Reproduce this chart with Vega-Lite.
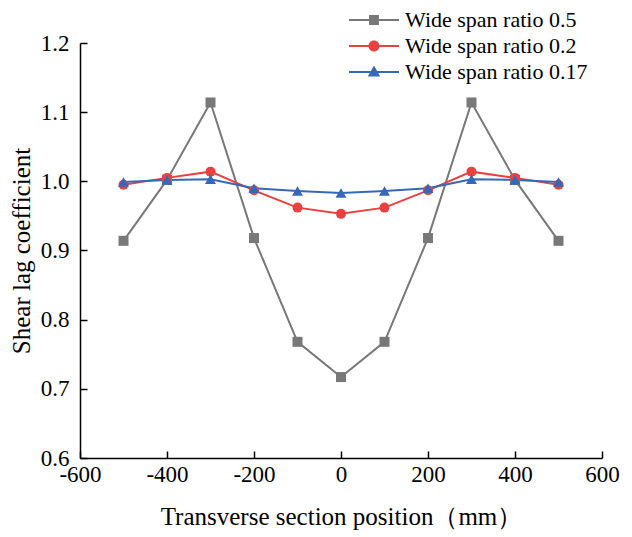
{
  "$schema": "https://vega.github.io/schema/vega-lite/v6.json",
  "width": 522,
  "height": 415,
  "autosize": {"type": "none"},
  "padding": {"left": 80, "top": 43, "right": 30, "bottom": 79},
  "background": "white",
  "config": {
    "view": {"stroke": null},
    "font": "Liberation Serif",
    "axis": {
      "grid": false,
      "domainColor": "#000000",
      "domainWidth": 1.5,
      "tickColor": "#000000",
      "tickWidth": 1.5,
      "tickSize": 7,
      "labelFlush": false,
      "labelColor": "#000000",
      "labelFontSize": 23,
      "labelFont": "Liberation Serif",
      "titleFont": "Liberation Serif",
      "titleFontSize": 25,
      "titleFontWeight": "normal",
      "titleColor": "#000000"
    }
  },
  "data": {
    "values": [
      {"pos": -500, "value": 0.914, "series": "Wide span ratio 0.5"},
      {"pos": -400, "value": 1.002, "series": "Wide span ratio 0.5"},
      {"pos": -300, "value": 1.114, "series": "Wide span ratio 0.5"},
      {"pos": -200, "value": 0.918, "series": "Wide span ratio 0.5"},
      {"pos": -100, "value": 0.768, "series": "Wide span ratio 0.5"},
      {"pos": 0, "value": 0.717, "series": "Wide span ratio 0.5"},
      {"pos": 100, "value": 0.768, "series": "Wide span ratio 0.5"},
      {"pos": 200, "value": 0.918, "series": "Wide span ratio 0.5"},
      {"pos": 300, "value": 1.114, "series": "Wide span ratio 0.5"},
      {"pos": 400, "value": 1.002, "series": "Wide span ratio 0.5"},
      {"pos": 500, "value": 0.914, "series": "Wide span ratio 0.5"},
      {"pos": -500, "value": 0.995, "series": "Wide span ratio 0.2"},
      {"pos": -400, "value": 1.005, "series": "Wide span ratio 0.2"},
      {"pos": -300, "value": 1.014, "series": "Wide span ratio 0.2"},
      {"pos": -200, "value": 0.987, "series": "Wide span ratio 0.2"},
      {"pos": -100, "value": 0.962, "series": "Wide span ratio 0.2"},
      {"pos": 0, "value": 0.953, "series": "Wide span ratio 0.2"},
      {"pos": 100, "value": 0.962, "series": "Wide span ratio 0.2"},
      {"pos": 200, "value": 0.987, "series": "Wide span ratio 0.2"},
      {"pos": 300, "value": 1.014, "series": "Wide span ratio 0.2"},
      {"pos": 400, "value": 1.005, "series": "Wide span ratio 0.2"},
      {"pos": 500, "value": 0.995, "series": "Wide span ratio 0.2"},
      {"pos": -500, "value": 0.999, "series": "Wide span ratio 0.17"},
      {"pos": -400, "value": 1.002, "series": "Wide span ratio 0.17"},
      {"pos": -300, "value": 1.003, "series": "Wide span ratio 0.17"},
      {"pos": -200, "value": 0.990, "series": "Wide span ratio 0.17"},
      {"pos": -100, "value": 0.986, "series": "Wide span ratio 0.17"},
      {"pos": 0, "value": 0.983, "series": "Wide span ratio 0.17"},
      {"pos": 100, "value": 0.986, "series": "Wide span ratio 0.17"},
      {"pos": 200, "value": 0.990, "series": "Wide span ratio 0.17"},
      {"pos": 300, "value": 1.003, "series": "Wide span ratio 0.17"},
      {"pos": 400, "value": 1.002, "series": "Wide span ratio 0.17"},
      {"pos": 500, "value": 0.999, "series": "Wide span ratio 0.17"}
    ]
  },
  "encoding": {
    "x": {
      "field": "pos",
      "type": "quantitative",
      "scale": {"domain": [-600, 600], "nice": false, "zero": false},
      "axis": null
    },
    "y": {
      "field": "value",
      "type": "quantitative",
      "scale": {"domain": [0.6, 1.2], "nice": false, "zero": false},
      "axis": null
    }
  },
  "layer": [
    {
      "transform": [{"filter": "datum.series === 'Wide span ratio 0.5'"}],
      "mark": {"type": "line", "strokeWidth": 2, "color": "#787878"},
      "encoding": {
        "x": {
          "field": "pos",
          "type": "quantitative",
          "scale": {"domain": [-600, 600], "nice": false, "zero": false},
          "axis": {
            "orient": "bottom",
            "values": [-600, -400, -200, 0, 200, 400, 600],
            "labelExpr": "datum.value + ''",
            "ticks": false,
            "title": "Transverse section position（mm）",
            "labelPadding": 5,
            "titlePadding": 18
          }
        },
        "y": {
          "field": "value",
          "type": "quantitative",
          "scale": {"domain": [0.6, 1.2], "nice": false, "zero": false},
          "axis": {
            "orient": "left",
            "values": [0.6, 0.7, 0.8, 0.9, 1.0, 1.1, 1.2],
            "format": ".1f",
            "ticks": false,
            "title": "Shear lag coefficient",
            "labelPadding": 11,
            "titlePadding": 6
          }
        }
      }
    },
    {
      "transform": [{"filter": "datum.series === 'Wide span ratio 0.2'"}],
      "mark": {"type": "line", "strokeWidth": 2, "color": "#e8413f"}
    },
    {
      "transform": [{"filter": "datum.series === 'Wide span ratio 0.17'"}],
      "mark": {"type": "line", "strokeWidth": 2, "color": "#3568b8"}
    },
    {
      "transform": [{"filter": "datum.series === 'Wide span ratio 0.5'"}],
      "mark": {"type": "point", "filled": true, "opacity": 1, "shape": "square", "size": 100, "color": "#787878"}
    },
    {
      "transform": [{"filter": "datum.series === 'Wide span ratio 0.2'"}],
      "mark": {"type": "point", "filled": true, "opacity": 1, "shape": "circle", "size": 100, "color": "#e8413f"}
    },
    {
      "transform": [{"filter": "datum.series === 'Wide span ratio 0.17'"}],
      "mark": {"type": "point", "filled": true, "opacity": 1, "shape": "triangle-up", "size": 120, "color": "#3568b8"}
    },
    {
      "transform": [{"filter": "datum.pos > 10000"}],
      "mark": {"type": "point", "filled": true, "opacity": 1},
      "encoding": {
        "x": {
          "field": "pos",
          "type": "quantitative",
          "scale": {"domain": [-600, 600], "nice": false, "zero": false},
          "axis": {
            "orient": "top",
            "offset": -415,
            "values": [-600, -400, -200, 0, 200, 400, 600],
            "labels": false,
            "domain": false,
            "ticks": true,
            "title": null,
            "tickSize": 7
          }
        },
        "y": {
          "field": "value",
          "type": "quantitative",
          "scale": {"domain": [0.6, 1.2], "nice": false, "zero": false},
          "axis": {
            "orient": "right",
            "offset": -522,
            "values": [0.6, 0.7, 0.8, 0.9, 1.0, 1.1, 1.2],
            "labels": false,
            "domain": false,
            "ticks": true,
            "title": null,
            "tickSize": 7
          }
        },
        "color": {
          "field": "series",
          "type": "nominal",
          "scale": {
            "domain": ["Wide span ratio 0.5", "Wide span ratio 0.2", "Wide span ratio 0.17"],
            "range": ["#787878", "#e8413f", "#3568b8"]
          },
          "legend": {
            "title": null,
            "orient": "none",
            "legendX": 283,
            "legendY": -34,
            "symbolSize": 400,
            "symbolStrokeWidth": 0,
            "labelFontSize": 22,
            "labelFont": "Liberation Serif",
            "labelColor": "#000000",
            "labelOffset": 20,
            "rowPadding": 4,
            "labelLimit": 300
          }
        },
        "shape": {
          "field": "series",
          "type": "nominal",
          "scale": {
            "domain": ["Wide span ratio 0.5", "Wide span ratio 0.2", "Wide span ratio 0.17"],
            "range": [
              "M-2.5,-0.1L2.5,-0.1L2.5,0.1L-2.5,0.1Z M-0.5,-0.5L0.5,-0.5L0.5,0.5L-0.5,0.5Z",
              "M-2.5,-0.1L2.5,-0.1L2.5,0.1L-2.5,0.1Z M-0.55,0A0.55,0.55 0 1,1 0.55,0A0.55,0.55 0 1,1 -0.55,0Z",
              "M-2.5,-0.1L2.5,-0.1L2.5,0.1L-2.5,0.1Z M0,-0.65L0.62,0.45L-0.62,0.45Z"
            ]
          },
          "legend": {
            "title": null,
            "orient": "none",
            "legendX": 283,
            "legendY": -34,
            "symbolSize": 400,
            "symbolStrokeWidth": 0,
            "labelFontSize": 22,
            "labelFont": "Liberation Serif",
            "labelColor": "#000000",
            "labelOffset": 20,
            "rowPadding": 4,
            "labelLimit": 300
          }
        }
      }
    }
  ]
}
